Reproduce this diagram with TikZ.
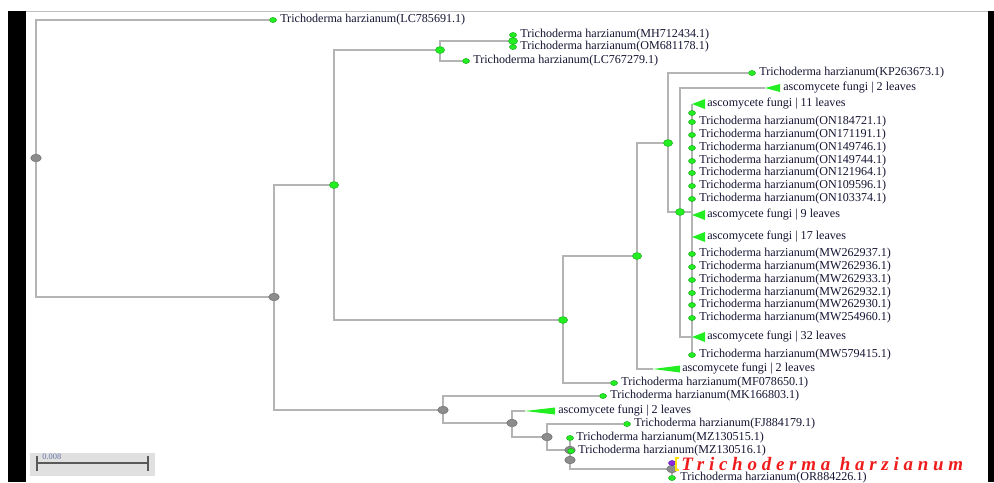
\documentclass[tikz,border=0pt]{standalone}
\usepackage{fontspec}
\setmainfont{Liberation Serif}
\usetikzlibrary{positioning,shapes.geometric,backgrounds}
\definecolor{branch}{HTML}{B4B4B4}
\definecolor{leafgreen}{HTML}{22EE22}
\definecolor{leafedge}{HTML}{14A014}
\definecolor{nodegray}{HTML}{8C8C8C}
\definecolor{labelink}{HTML}{141432}
\definecolor{hitred}{HTML}{EE1C1C}
\definecolor{hitpurple}{HTML}{8A2BE2}
\definecolor{barink}{HTML}{6878A8}
\tikzset{
  br/.style={draw=branch,line width=1.3pt},
  gnode/.style={ellipse,fill=leafgreen,draw=leafedge,line width=0.3pt,inner sep=0pt,
                minimum width=6.5pt,minimum height=5pt},
  leaf/.style={ellipse,fill=leafgreen,draw=leafedge,line width=0.3pt,inner sep=0pt,
               minimum width=5pt,minimum height=3.6pt},
  inode/.style={ellipse,fill=nodegray,draw=black!60,line width=0.3pt,inner sep=0pt,
                minimum width=7.5pt,minimum height=5.5pt},
  lab/.style={anchor=west,inner sep=0pt,text=labelink,font=\fontsize{8.6}{10}\selectfont},
  clade/.style={fill=leafgreen}
}

\begin{document}
\begin{tikzpicture}[x=0.025cm,y=-0.025cm]
  \useasboundingbox (0,0) rectangle (994,482);
  \fill[black] (8,11) rectangle (26,482);
  \fill[black] (988,11) rectangle (994,482);
  \draw[black!25,line width=1pt] (26,11.5) -- (988,11.5);

  \node[inode] (root) at (36,158) {};
  \node[leaf] (d1) at (273,20) {};
  \node[lab] (t1) at (280,20) {Trichoderma harzianum(LC785691.1)};
  \node[inode] (n1) at (274,297) {};
  \node[gnode] (n2) at (334,185) {};
  \node[gnode] (n3) at (440,50) {};
  \node[gnode] (n4) at (513,41) {};
  \node[leaf] (d2) at (513,35) {};
  \node[lab] (t2) at (520,35) {Trichoderma harzianum(MH712434.1)};
  \node[leaf] (d3) at (513,47) {};
  \node[lab] (t3) at (520,47) {Trichoderma harzianum(OM681178.1)};
  \node[leaf] (d4) at (466,61) {};
  \node[lab] (t4) at (473,61) {Trichoderma harzianum(LC767279.1)};
  \node[gnode] (n5) at (563,320) {};
  \node[gnode] (n6) at (637,256) {};
  \node[gnode] (n7) at (668,143) {};
  \node[leaf] (d5) at (752,73) {};
  \node[lab] (t5) at (759,73) {Trichoderma harzianum(KP263673.1)};
  \node[gnode] (n8) at (680,212) {};
  \coordinate (k1) at (765,88);
  \fill[clade] (k1) -- ++(15,-4) -- ++(0,8) -- cycle;
  \node[lab] (t6) at (783,88) {ascomycete fungi | 2 leaves};
  \coordinate (pc) at (692,212);
  \coordinate (k2) at (692,104);
  \fill[clade] (k2) -- ++(13,-5) -- ++(0,10) -- cycle;
  \node[lab] (t7) at (707,104) {ascomycete fungi | 11 leaves};
  \node[leaf] (d6) at (692,113) {};
  \node[leaf] (d7) at (692,122) {};
  \node[lab] (t8) at (699,122) {Trichoderma harzianum(ON184721.1)};
  \node[leaf] (d8) at (692,135) {};
  \node[lab] (t9) at (699,135) {Trichoderma harzianum(ON171191.1)};
  \node[leaf] (d9) at (692,148) {};
  \node[lab] (t10) at (699,148) {Trichoderma harzianum(ON149746.1)};
  \node[leaf] (d10) at (692,161) {};
  \node[lab] (t11) at (699,161) {Trichoderma harzianum(ON149744.1)};
  \node[leaf] (d11) at (692,173) {};
  \node[lab] (t12) at (699,173) {Trichoderma harzianum(ON121964.1)};
  \node[leaf] (d12) at (692,186) {};
  \node[lab] (t13) at (699,186) {Trichoderma harzianum(ON109596.1)};
  \node[leaf] (d13) at (692,199) {};
  \node[lab] (t14) at (699,199) {Trichoderma harzianum(ON103374.1)};
  \coordinate (k3) at (692,215);
  \fill[clade] (k3) -- ++(13,-5) -- ++(0,10) -- cycle;
  \node[lab] (t15) at (707,215) {ascomycete fungi | 9 leaves};
  \coordinate (k4) at (692,237);
  \fill[clade] (k4) -- ++(13,-5) -- ++(0,10) -- cycle;
  \node[lab] (t16) at (707,237) {ascomycete fungi | 17 leaves};
  \node[leaf] (d14) at (692,254) {};
  \node[lab] (t17) at (699,254) {Trichoderma harzianum(MW262937.1)};
  \node[leaf] (d15) at (692,267) {};
  \node[lab] (t18) at (699,267) {Trichoderma harzianum(MW262936.1)};
  \node[leaf] (d16) at (692,280) {};
  \node[lab] (t19) at (699,280) {Trichoderma harzianum(MW262933.1)};
  \node[leaf] (d17) at (692,293) {};
  \node[lab] (t20) at (699,293) {Trichoderma harzianum(MW262932.1)};
  \node[leaf] (d18) at (692,305) {};
  \node[lab] (t21) at (699,305) {Trichoderma harzianum(MW262930.1)};
  \node[leaf] (d19) at (692,318) {};
  \node[lab] (t22) at (699,318) {Trichoderma harzianum(MW254960.1)};
  \coordinate (k5) at (692,337);
  \fill[clade] (k5) -- ++(13,-5) -- ++(0,10) -- cycle;
  \node[lab] (t23) at (707,337) {ascomycete fungi | 32 leaves};
  \node[leaf] (d20) at (692,355) {};
  \node[lab] (t24) at (699,355) {Trichoderma harzianum(MW579415.1)};
  \coordinate (k6) at (653,369);
  \fill[clade] (k6) -- ++(27,-3.5) -- ++(0,7) -- cycle;
  \node[lab] (t25) at (682,369) {ascomycete fungi | 2 leaves};
  \node[leaf] (d21) at (614,383) {};
  \node[lab] (t26) at (621,383) {Trichoderma harzianum(MF078650.1)};
  \node[inode] (n9) at (443,410) {};
  \node[leaf] (d22) at (603,396) {};
  \node[lab] (t27) at (610,396) {Trichoderma harzianum(MK166803.1)};
  \node[inode] (n10) at (512,423) {};
  \coordinate (k7) at (525,411);
  \fill[clade] (k7) -- ++(30,-3.5) -- ++(0,7) -- cycle;
  \node[lab] (t28) at (558,411) {ascomycete fungi | 2 leaves};
  \node[inode] (n11) at (547,437) {};
  \node[leaf] (d23) at (627,424) {};
  \node[lab] (t29) at (634,424) {Trichoderma harzianum(FJ884179.1)};
  \node[leaf] (d24) at (570,438) {};
  \node[lab] (t30) at (576,438) {Trichoderma harzianum(MZ130515.1)};
  \node[inode] (n12) at (570,450) {};
  \node[leaf] (d25) at (571,451) {};
  \node[lab] (t31) at (578,450.5) {Trichoderma harzianum(MZ130516.1)};
  \node[inode] (n13) at (570,460) {};
  \node[inode] (n14) at (672,469) {};
  \node[leaf,fill=hitpurple,draw=hitpurple!70!black] (d26) at (672,463) {};
  \node[anchor=west,inner sep=0pt,text depth=0pt,text=hitred,
        font=\fontsize{13.5}{13.5}\selectfont\bfseries\itshape\addfontfeature{LetterSpace=25}]
        (rl) at (681,463.5) {Trichoderma harzianum};
  \draw[yellow!85!orange,line width=0.8pt] (679,458) -- (676,458) -- (676,470) -- (679,470);
  \node[leaf] (d27) at (672,478) {};
  \node[lab] (t32) at (680,477.5) {Trichoderma harzianum(OR884226.1)};

  \fill[black!12] (30,453) rectangle (155,476);
  \coordinate (sbl) at (37,463);
  \coordinate (sbr) at (148,463);
  \draw[black!65,line width=1pt] (sbl) -- (sbr);
  \draw[black!65,line width=1.2pt] (37,456) -- (37,471);
  \draw[black!65,line width=1.2pt] (148,456) -- (148,471);
  \node[anchor=west,inner sep=0pt,text=barink,font=\fontsize{6}{6}\selectfont] (sbt) at (42,457) {0.008};

  \begin{scope}[on background layer]
    \draw[br] (root) |- (d1);
    \draw[br] (root) |- (n1);
    \draw[br] (n1) |- (n2);
    \draw[br] (n1) |- (n9);
    \draw[br] (n2) |- (n3);
    \draw[br] (n2) |- (n5);
    \draw[br] (n3) |- (n4);
    \draw[br] (n3) |- (d4);
    \draw[br] (d2) -- (d3);
    \draw[br] (n5) |- (n6);
    \draw[br] (n5) |- (d21);
    \draw[br] (n6) |- (n7);
    \draw[br] (n6) |- (k6);
    \draw[br] (n7) |- (d5);
    \draw[br] (n7) |- (n8);
    \draw[br] (n8) |- (k1);
    \draw[br] (n8) |- (k5);
    \draw[br] (n8) -- (pc);
    \draw[br] (k2) -- (d20);
    \draw[br] (n9) |- (d22);
    \draw[br] (n9) |- (n10);
    \draw[br] (n10) |- (k7);
    \draw[br] (n10) |- (n11);
    \draw[br] (n11) |- (d23);
    \draw[br] (n11) |- (n12);
    \draw[br] (d24) |- (n14);
    \draw[br] (d26) -- (d27);
  \end{scope}
\end{tikzpicture}
\end{document}
